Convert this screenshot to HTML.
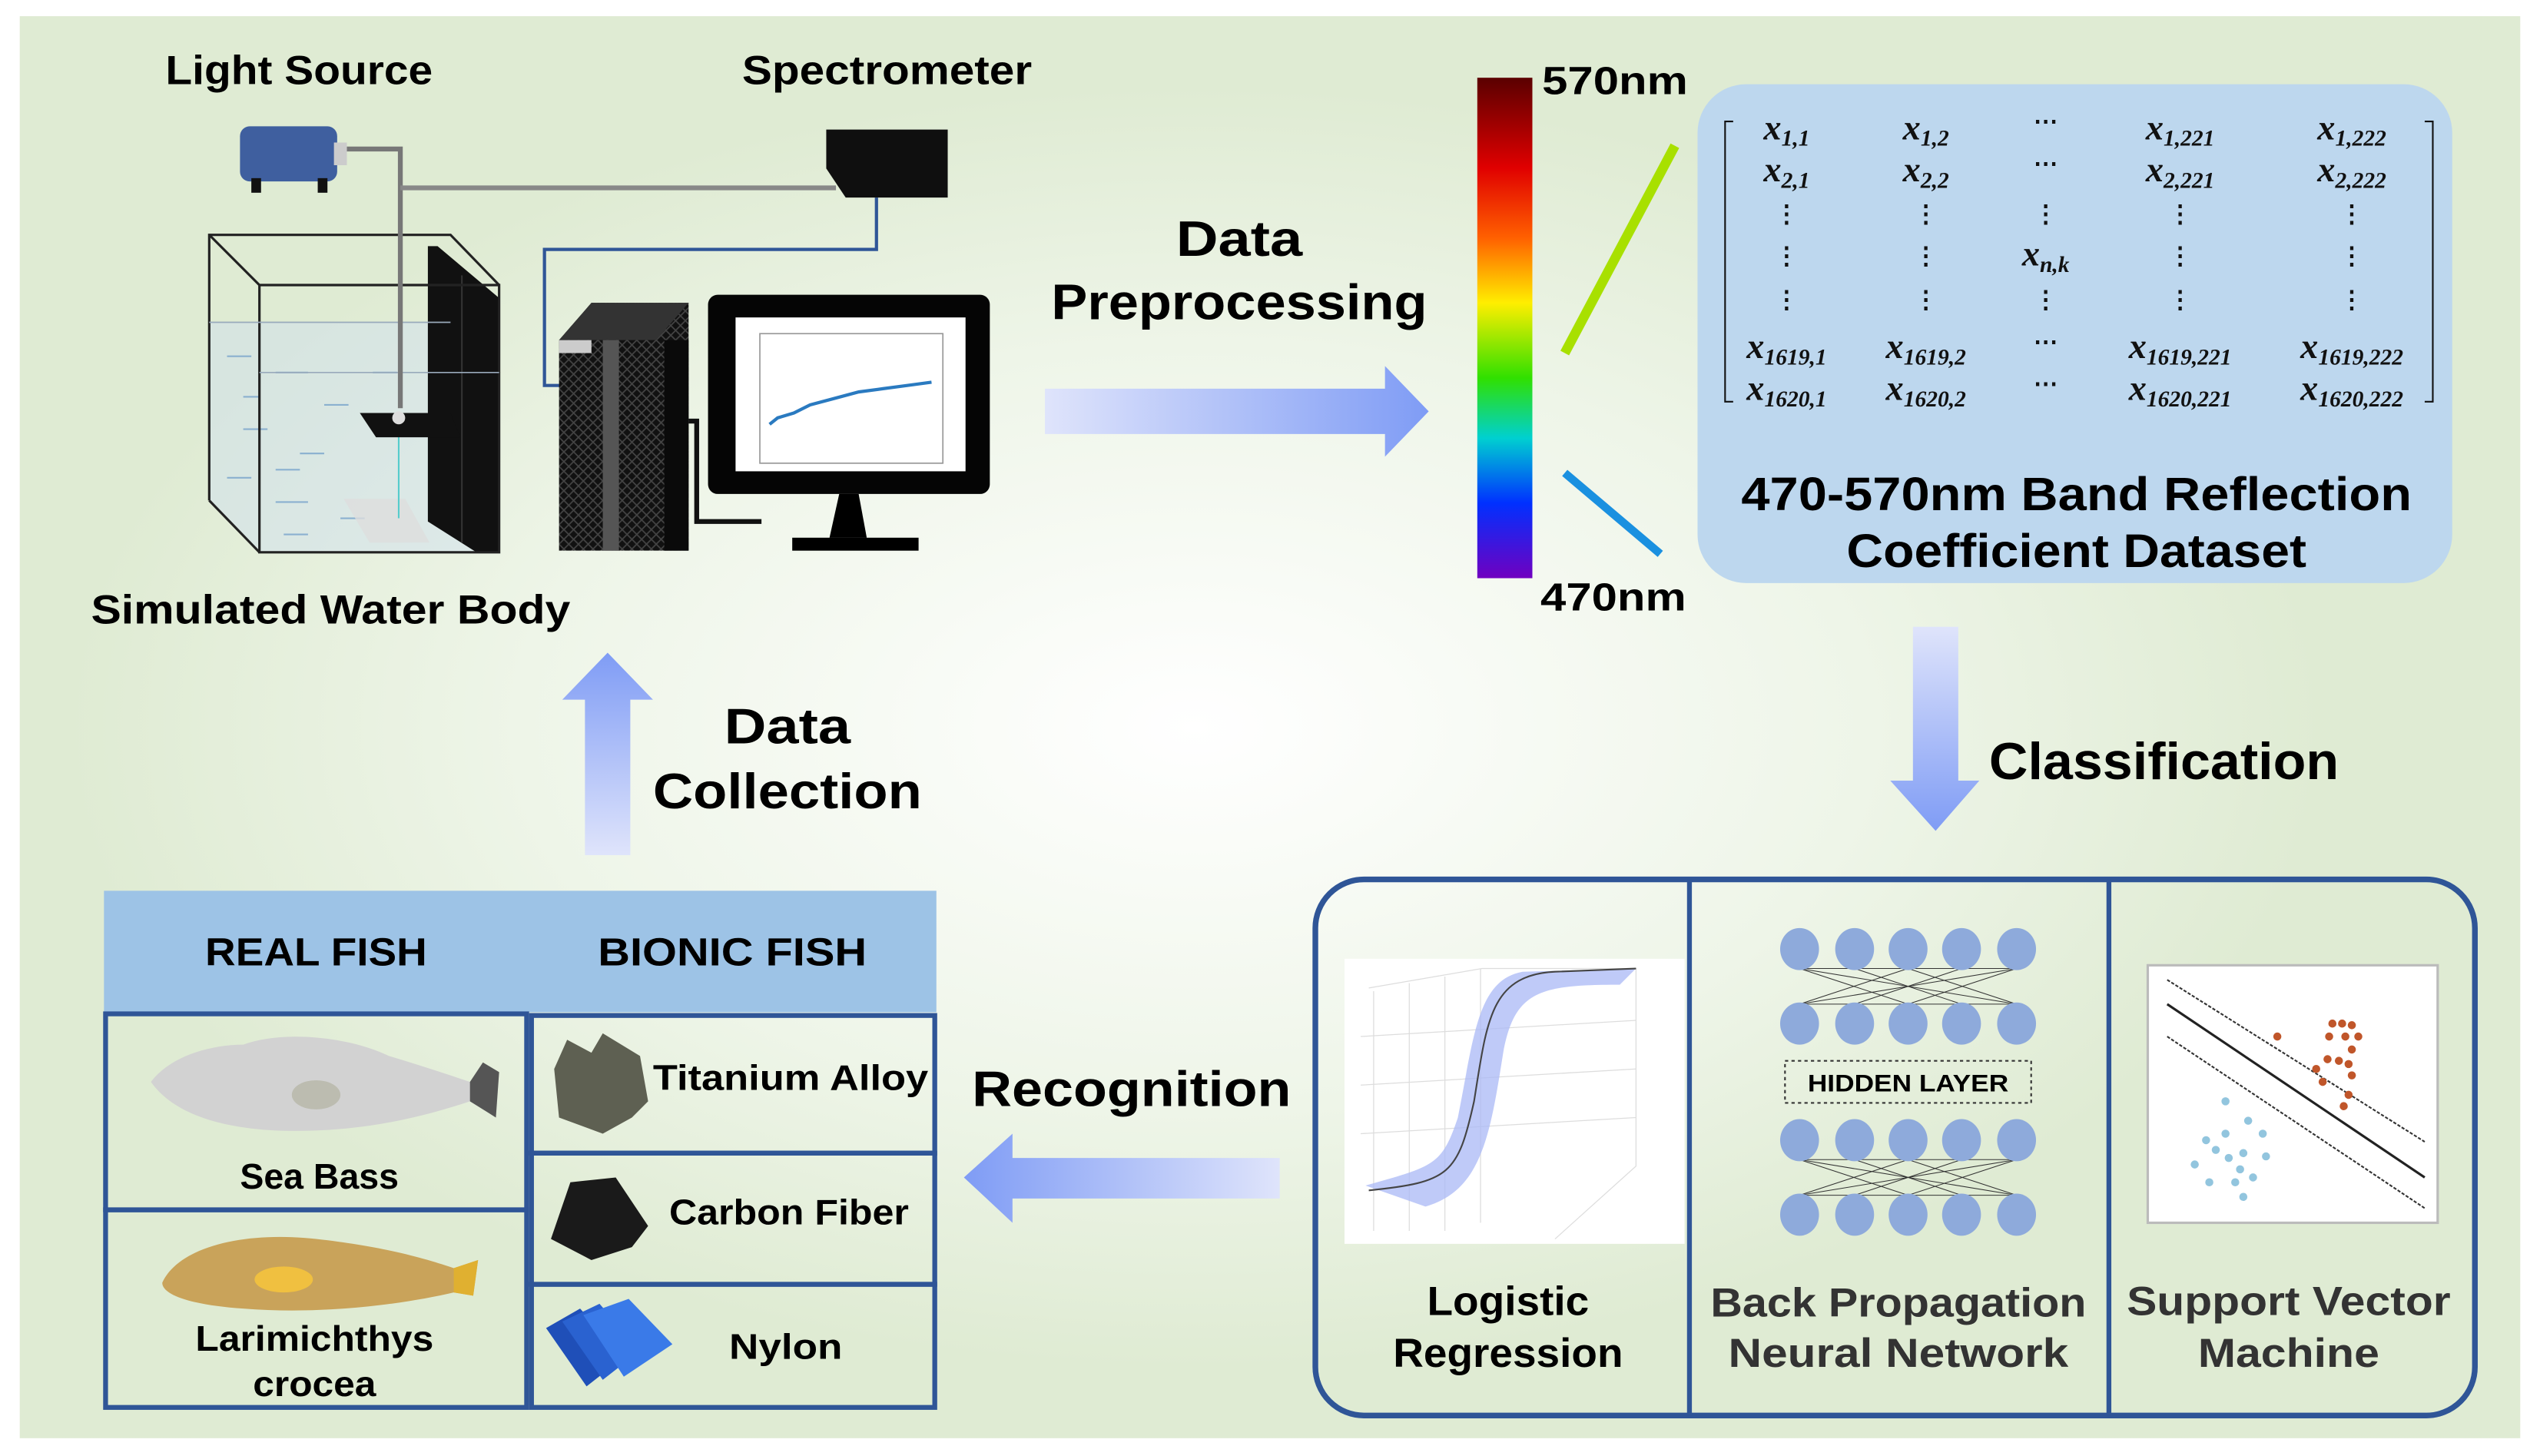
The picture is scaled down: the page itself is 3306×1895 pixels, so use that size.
<!DOCTYPE html>
<html><head><meta charset="utf-8"><style>html,body{margin:0;padding:0;background:#fff}svg{display:block}</style></head>
<body>
<svg width="3306" height="1895" viewBox="0 0 1568 899" xmlns="http://www.w3.org/2000/svg" font-family="Liberation Sans, sans-serif" font-weight="bold">
<defs>
<radialGradient id="bg" cx="0.47" cy="0.5" r="0.45">
<stop offset="0" stop-color="#ffffff"/><stop offset="0.6" stop-color="#eef5e8"/><stop offset="1" stop-color="#dfebd3"/></radialGradient>
<linearGradient id="ar" x1="0" y1="0" x2="1" y2="0"><stop offset="0" stop-color="#dfe4fb"/><stop offset="1" stop-color="#7f9cf5"/></linearGradient>
<linearGradient id="al" x1="1" y1="0" x2="0" y2="0"><stop offset="0" stop-color="#dfe4fb"/><stop offset="1" stop-color="#7f9cf5"/></linearGradient>
<linearGradient id="au" x1="0" y1="1" x2="0" y2="0"><stop offset="0" stop-color="#dfe4fb"/><stop offset="1" stop-color="#7f9cf5"/></linearGradient>
<linearGradient id="ad" x1="0" y1="0" x2="0" y2="1"><stop offset="0" stop-color="#dfe4fb"/><stop offset="1" stop-color="#7f9cf5"/></linearGradient>
<linearGradient id="sp" x1="0" y1="0" x2="0" y2="1">
<stop offset="0" stop-color="#5a0000"/><stop offset="0.18" stop-color="#e00000"/><stop offset="0.32" stop-color="#ff6000"/><stop offset="0.45" stop-color="#ffee00"/><stop offset="0.6" stop-color="#30e000"/><stop offset="0.72" stop-color="#00d0d0"/><stop offset="0.85" stop-color="#0030ff"/><stop offset="1" stop-color="#7000c0"/></linearGradient>
<pattern id="mesh" width="6" height="6" patternUnits="userSpaceOnUse"><rect width="6" height="6" fill="#111"/><path d="M0 3L3 0L6 3L3 6Z" fill="none" stroke="#444" stroke-width="0.8"/></pattern>
</defs>
<rect width="1568" height="899" fill="#fff"/>
<rect x="12" y="10" width="1544" height="878" fill="url(#bg)"/>

<!-- top labels -->
<text x="102" y="52" font-size="25" textLength="165" lengthAdjust="spacingAndGlyphs">Light Source</text>
<text x="458" y="52" font-size="25" textLength="179" lengthAdjust="spacingAndGlyphs">Spectrometer</text>
<text x="56" y="385" font-size="25" textLength="296" lengthAdjust="spacingAndGlyphs">Simulated Water Body</text>

<!-- tank -->
<polygon points="129,199 278,199 308,230 308,341 160,341 129,309" fill="#cfe0ee" opacity="0.5"/>
<g stroke="#6a9ac8" stroke-width="1" opacity="0.7">
<line x1="140" y1="220" x2="155" y2="220"/><line x1="170" y1="230" x2="190" y2="230"/><line x1="200" y1="250" x2="215" y2="250"/><line x1="150" y1="265" x2="165" y2="265"/><line x1="185" y1="280" x2="200" y2="280"/><line x1="140" y1="295" x2="155" y2="295"/><line x1="170" y1="310" x2="190" y2="310"/><line x1="210" y1="320" x2="225" y2="320"/><line x1="170" y1="290" x2="185" y2="290"/><line x1="150" y1="245" x2="160" y2="245"/><line x1="230" y1="230" x2="245" y2="230"/><line x1="175" y1="330" x2="190" y2="330"/></g>
<polygon points="212,308 250,308 265,335 228,335" fill="#ddd" opacity="0.8"/>
<polygon points="264,152 270,152 308,184 308,341 294,341 264,322" fill="#111"/>
<line x1="285" y1="170" x2="285" y2="335" stroke="#333" stroke-width="1"/>
<g fill="none" stroke="#222" stroke-width="1.5">
<polyline points="129,309 129,145 278,145 308,176"/>
<polyline points="129,145 160,176 308,176 308,341 160,341 160,176"/>
<line x1="129" y1="309" x2="160" y2="341"/>
</g>
<line x1="129" y1="199" x2="278" y2="199" stroke="#9ab" stroke-width="0.8"/>
<line x1="160" y1="230" x2="308" y2="230" stroke="#9ab" stroke-width="0.8"/>
<line x1="246" y1="268" x2="246" y2="320" stroke="#5cc" stroke-width="1"/>
<!-- cables -->
<polyline points="213,92 247,92 247,252" fill="none" stroke="#777" stroke-width="3"/>
<line x1="247" y1="116" x2="516" y2="116" stroke="#888" stroke-width="3"/>
<polyline points="541,122 541,154 336,154 336,238 395,238" fill="none" stroke="#2f5597" stroke-width="2"/>
<polygon points="222,255 278,255 284,270 232,270" fill="#111"/>
<circle cx="246" cy="258" r="4" fill="#ddd"/>
<!-- light source -->
<rect x="148" y="78" width="60" height="34" rx="6" fill="#3f5f9f"/>
<rect x="206" y="88" width="8" height="14" fill="#ccc"/>
<rect x="155" y="110" width="6" height="9" fill="#111"/><rect x="196" y="110" width="6" height="9" fill="#111"/>
<!-- spectrometer -->
<polygon points="510,80 585,80 585,122 522,122 510,104" fill="#0f0f0f"/>
<!-- tower -->
<polygon points="345,210 365,187 425,187 425,340 345,340" fill="url(#mesh)"/>
<polygon points="345,210 365,187 425,187 405,210" fill="#333"/>
<rect x="345" y="210" width="20" height="8" fill="#ccc"/>
<rect x="372" y="210" width="10" height="130" fill="#555"/>
<rect x="410" y="210" width="15" height="130" fill="#0a0a0a"/>
<polyline points="425,260 430,260 430,322 470,322" fill="none" stroke="#111" stroke-width="3"/>
<!-- monitor -->
<rect x="437" y="182" width="174" height="123" rx="6" fill="#050505"/>
<rect x="454" y="196" width="142" height="95" fill="#fff"/>
<rect x="469" y="206" width="113" height="80" fill="none" stroke="#999" stroke-width="0.8"/>
<path d="M475 262 L480 258 L490 255 L500 250 L515 246 L530 242 L545 240 L560 238 L575 236" fill="none" stroke="#2a7ac0" stroke-width="2"/>
<polygon points="518,305 530,305 535,332 512,332" fill="#000"/>
<rect x="489" y="332" width="78" height="8" fill="#000"/>

<!-- data preprocessing -->
<text x="765" y="158" font-size="31" text-anchor="middle" textLength="78" lengthAdjust="spacingAndGlyphs">Data</text>
<text x="765" y="197" font-size="31" text-anchor="middle" textLength="232" lengthAdjust="spacingAndGlyphs">Preprocessing</text>
<polygon points="645,240 855,240 855,226 882,254 855,282 855,268 645,268" fill="url(#ar)"/>

<!-- spectrum -->
<rect x="912" y="48" width="34" height="309" fill="url(#sp)"/>
<text x="952" y="58" font-size="24" textLength="90" lengthAdjust="spacingAndGlyphs">570nm</text>
<text x="951" y="377" font-size="24" textLength="90" lengthAdjust="spacingAndGlyphs">470nm</text>
<line x1="966" y1="218" x2="1034" y2="90" stroke="#a8e000" stroke-width="6"/>
<line x1="966" y1="292" x2="1025" y2="342" stroke="#1a90e0" stroke-width="5"/>

<!-- matrix box -->
<rect x="1048" y="52" width="466" height="308" rx="30" fill="#bdd7ee"/>
<g font-family="Liberation Serif, serif" font-style="italic" font-weight="bold" font-size="22" fill="#111" text-anchor="middle">
<text x="1103" y="86">x<tspan font-size="14" dy="4">1,1</tspan></text>
<text x="1189" y="86">x<tspan font-size="14" dy="4">1,2</tspan></text>
<text x="1346" y="86">x<tspan font-size="14" dy="4">1,221</tspan></text>
<text x="1452" y="86">x<tspan font-size="14" dy="4">1,222</tspan></text>
<text x="1103" y="112">x<tspan font-size="14" dy="4">2,1</tspan></text>
<text x="1189" y="112">x<tspan font-size="14" dy="4">2,2</tspan></text>
<text x="1346" y="112">x<tspan font-size="14" dy="4">2,221</tspan></text>
<text x="1452" y="112">x<tspan font-size="14" dy="4">2,222</tspan></text>
<text x="1263" y="164">x<tspan font-size="14" dy="4">n,k</tspan></text>
<text x="1103" y="221">x<tspan font-size="14" dy="4">1619,1</tspan></text>
<text x="1189" y="221">x<tspan font-size="14" dy="4">1619,2</tspan></text>
<text x="1346" y="221">x<tspan font-size="14" dy="4">1619,221</tspan></text>
<text x="1452" y="221">x<tspan font-size="14" dy="4">1619,222</tspan></text>
<text x="1103" y="247">x<tspan font-size="14" dy="4">1620,1</tspan></text>
<text x="1189" y="247">x<tspan font-size="14" dy="4">1620,2</tspan></text>
<text x="1346" y="247">x<tspan font-size="14" dy="4">1620,221</tspan></text>
<text x="1452" y="247">x<tspan font-size="14" dy="4">1620,222</tspan></text>
</g>
<g font-family="Liberation Serif, serif" font-weight="bold" font-size="15" fill="#111" text-anchor="middle">
<text x="1263" y="80">⋯</text><text x="1263" y="106">⋯</text><text x="1263" y="216">⋯</text><text x="1263" y="242">⋯</text>
<text x="1103" y="137">⋮</text><text x="1189" y="137">⋮</text><text x="1263" y="137">⋮</text><text x="1346" y="137">⋮</text><text x="1452" y="137">⋮</text>
<text x="1103" y="163">⋮</text><text x="1189" y="163">⋮</text><text x="1346" y="163">⋮</text><text x="1452" y="163">⋮</text>
<text x="1103" y="190">⋮</text><text x="1189" y="190">⋮</text><text x="1263" y="190">⋮</text><text x="1346" y="190">⋮</text><text x="1452" y="190">⋮</text>
</g>
<polyline points="1070,75 1065,75 1065,248 1070,248" fill="none" stroke="#111" stroke-width="1"/>
<polyline points="1497,75 1502,75 1502,248 1497,248" fill="none" stroke="#111" stroke-width="1"/>
<text x="1282" y="315" font-size="29" text-anchor="middle" textLength="414" lengthAdjust="spacingAndGlyphs">470-570nm Band Reflection</text>
<text x="1282" y="350" font-size="29" text-anchor="middle" textLength="284" lengthAdjust="spacingAndGlyphs">Coefficient Dataset</text>

<!-- classification arrow -->
<polygon points="1181,387 1209,387 1209,482 1222,482 1195,513 1167,482 1181,482" fill="url(#ad)"/>
<text x="1228" y="481" font-size="32" textLength="216" lengthAdjust="spacingAndGlyphs">Classification</text>

<!-- data collection -->
<polygon points="361,528 389,528 389,432 403,432 375,403 347,432 361,432" fill="url(#au)"/>
<text x="486" y="459" font-size="31" text-anchor="middle" textLength="78" lengthAdjust="spacingAndGlyphs">Data</text>
<text x="486" y="499" font-size="31" text-anchor="middle" textLength="166" lengthAdjust="spacingAndGlyphs">Collection</text>

<!-- recognition -->
<polygon points="790,715 625,715 625,700 595,727 625,755 625,740 790,740" fill="url(#al)"/>
<text x="600" y="683" font-size="31" textLength="197" lengthAdjust="spacingAndGlyphs">Recognition</text>

<!-- table -->
<rect x="64" y="550" width="514" height="75" fill="#9dc3e6"/>
<text x="195" y="596" font-size="24" text-anchor="middle" textLength="137" lengthAdjust="spacingAndGlyphs">REAL FISH</text>
<text x="452" y="596" font-size="24" text-anchor="middle" textLength="166" lengthAdjust="spacingAndGlyphs">BIONIC FISH</text>
<g fill="none" stroke="#2f5597" stroke-width="3">
<rect x="65" y="626" width="260" height="121"/><rect x="65" y="747" width="260" height="122"/>
<rect x="328" y="627" width="249" height="85"/><rect x="328" y="712" width="249" height="81"/><rect x="328" y="793" width="249" height="76"/>
</g>
<!-- sea bass -->
<path d="M93 668 C105 652 130 645 150 645 C175 636 215 640 240 652 C260 658 275 663 290 668 L298 656 L308 662 L306 690 L290 680 C260 690 220 700 170 698 C130 696 105 685 93 668Z" fill="#d2d2d2"/>
<path d="M290 668 L298 656 L308 662 L306 690 L290 680Z" fill="#555"/>
<ellipse cx="195" cy="676" rx="15" ry="9" fill="#bcbcb0"/>
<text x="197" y="734" font-size="22" text-anchor="middle" textLength="98" lengthAdjust="spacingAndGlyphs">Sea Bass</text>
<!-- yellow croaker -->
<path d="M100 792 C110 770 150 760 195 765 C240 770 265 778 280 783 L295 778 L292 800 L280 798 C250 805 200 812 150 808 C120 806 100 800 100 792Z" fill="#c9a35a"/>
<path d="M280 783 L295 778 L292 800 L280 798Z" fill="#e0b030"/>
<ellipse cx="175" cy="790" rx="18" ry="8" fill="#f0c040"/>
<text x="194" y="834" font-size="22" text-anchor="middle" textLength="147" lengthAdjust="spacingAndGlyphs">Larimichthys</text>
<text x="194" y="862" font-size="22" text-anchor="middle" textLength="76" lengthAdjust="spacingAndGlyphs">crocea</text>
<!-- materials -->
<polygon points="350,642 365,650 372,638 395,652 400,680 390,690 372,700 345,690 342,660" fill="#5e6052"/>
<text x="403" y="673" font-size="22" textLength="170" lengthAdjust="spacingAndGlyphs">Titanium Alloy</text>
<polygon points="352,730 380,727 400,757 390,770 365,778 340,765" fill="#1a1a1a"/>
<text x="413" y="756" font-size="22" textLength="148" lengthAdjust="spacingAndGlyphs">Carbon Fiber</text>
<polygon points="337,820 358,808 385,838 362,856" fill="#1f4fb8"/>
<polygon points="347,816 370,805 395,834 372,852" fill="#2a62d0"/>
<polygon points="360,812 388,802 415,830 385,850" fill="#3a7ae8"/>
<text x="485" y="839" font-size="22" text-anchor="middle" textLength="70" lengthAdjust="spacingAndGlyphs">Nylon</text>

<!-- classifier box -->
<rect x="812" y="543" width="716" height="331" rx="30" fill="none" stroke="#2f5597" stroke-width="3.5"/>
<line x1="1043" y1="543" x2="1043" y2="874" stroke="#2f5597" stroke-width="3"/>
<line x1="1302" y1="543" x2="1302" y2="874" stroke="#2f5597" stroke-width="3"/>
<!-- logistic -->
<rect x="830" y="592" width="210" height="176" fill="#fff"/>
<g stroke="#ddd" stroke-width="0.6" fill="none">
<line x1="848" y1="612" x2="848" y2="760"/><line x1="870" y1="607" x2="870" y2="760"/><line x1="892" y1="603" x2="892" y2="760"/><line x1="914" y1="598" x2="914" y2="755"/>
<line x1="840" y1="640" x2="1010" y2="630"/><line x1="840" y1="670" x2="1010" y2="660"/><line x1="840" y1="700" x2="1010" y2="690"/>
<polyline points="845,610 915,598 1010,598 1010,720 960,765"/>
</g>
<path d="M843 732 C885 720 890 720 900 690 C910 640 912 605 940 600 L1010 598 L1000 608 C950 608 935 612 928 650 C920 700 915 735 880 745 Z" fill="#a9b8f5" opacity="0.75"/>
<path d="M845 735 C895 730 900 725 910 680 C918 630 920 602 960 600 L1010 598" fill="none" stroke="#444" stroke-width="1"/>
<text x="931" y="812" font-size="25" text-anchor="middle" textLength="100" lengthAdjust="spacingAndGlyphs">Logistic</text>
<text x="931" y="844" font-size="25" text-anchor="middle" textLength="142" lengthAdjust="spacingAndGlyphs">Regression</text>
<!-- NN -->
<g stroke="#333" stroke-width="0.5">
<line x1="1111" y1="598" x2="1245" y2="620"/><line x1="1245" y1="598" x2="1111" y2="620"/><line x1="1145" y1="598" x2="1211" y2="620"/><line x1="1211" y1="598" x2="1145" y2="620"/><line x1="1111" y1="598" x2="1178" y2="620"/><line x1="1178" y1="598" x2="1245" y2="620"/><line x1="1178" y1="598" x2="1111" y2="620"/><line x1="1245" y1="598" x2="1178" y2="620"/>
<line x1="1111" y1="598" x2="1245" y2="598"/><line x1="1111" y1="620" x2="1245" y2="620"/>
<line x1="1111" y1="716" x2="1245" y2="738"/><line x1="1245" y1="716" x2="1111" y2="738"/><line x1="1145" y1="716" x2="1211" y2="738"/><line x1="1211" y1="716" x2="1145" y2="738"/><line x1="1111" y1="716" x2="1178" y2="738"/><line x1="1178" y1="716" x2="1245" y2="738"/><line x1="1178" y1="716" x2="1111" y2="738"/><line x1="1245" y1="716" x2="1178" y2="738"/>
<line x1="1111" y1="716" x2="1245" y2="716"/><line x1="1111" y1="738" x2="1245" y2="738"/>
</g>
<g fill="#8eaadb">
<ellipse cx="1111" cy="586" rx="12" ry="13"/><ellipse cx="1145" cy="586" rx="12" ry="13"/><ellipse cx="1178" cy="586" rx="12" ry="13"/><ellipse cx="1211" cy="586" rx="12" ry="13"/><ellipse cx="1245" cy="586" rx="12" ry="13"/>
<ellipse cx="1111" cy="632" rx="12" ry="13"/><ellipse cx="1145" cy="632" rx="12" ry="13"/><ellipse cx="1178" cy="632" rx="12" ry="13"/><ellipse cx="1211" cy="632" rx="12" ry="13"/><ellipse cx="1245" cy="632" rx="12" ry="13"/>
<ellipse cx="1111" cy="704" rx="12" ry="13"/><ellipse cx="1145" cy="704" rx="12" ry="13"/><ellipse cx="1178" cy="704" rx="12" ry="13"/><ellipse cx="1211" cy="704" rx="12" ry="13"/><ellipse cx="1245" cy="704" rx="12" ry="13"/>
<ellipse cx="1111" cy="750" rx="12" ry="13"/><ellipse cx="1145" cy="750" rx="12" ry="13"/><ellipse cx="1178" cy="750" rx="12" ry="13"/><ellipse cx="1211" cy="750" rx="12" ry="13"/><ellipse cx="1245" cy="750" rx="12" ry="13"/>
</g>
<rect x="1102" y="655" width="152" height="26" fill="none" stroke="#333" stroke-width="1" stroke-dasharray="2,2"/>
<text x="1178" y="674" font-size="15" text-anchor="middle" textLength="124" lengthAdjust="spacingAndGlyphs">HIDDEN LAYER</text>
<text x="1172" y="813" font-size="25" text-anchor="middle" fill="#333" textLength="232" lengthAdjust="spacingAndGlyphs">Back Propagation</text>
<text x="1172" y="844" font-size="25" text-anchor="middle" fill="#333" textLength="210" lengthAdjust="spacingAndGlyphs">Neural Network</text>
<!-- SVM -->
<rect x="1326" y="596" width="179" height="159" fill="#fff" stroke="#bbb" stroke-width="1.5"/>
<line x1="1338" y1="605" x2="1497" y2="705" stroke="#333" stroke-width="1" stroke-dasharray="2,1"/>
<line x1="1338" y1="620" x2="1497" y2="727" stroke="#222" stroke-width="1.5"/>
<line x1="1338" y1="640" x2="1497" y2="746" stroke="#333" stroke-width="1" stroke-dasharray="2,1"/>
<g fill="#c0562a">
<circle cx="1406" cy="640" r="2.5"/><circle cx="1440" cy="632" r="2.5"/><circle cx="1446" cy="632" r="2.5"/><circle cx="1452" cy="633" r="2.5"/><circle cx="1438" cy="640" r="2.5"/><circle cx="1448" cy="640" r="2.5"/><circle cx="1456" cy="640" r="2.5"/><circle cx="1452" cy="648" r="2.5"/><circle cx="1437" cy="654" r="2.5"/><circle cx="1444" cy="655" r="2.5"/><circle cx="1450" cy="657" r="2.5"/><circle cx="1430" cy="660" r="2.5"/><circle cx="1452" cy="664" r="2.5"/><circle cx="1434" cy="668" r="2.5"/><circle cx="1450" cy="676" r="2.5"/><circle cx="1447" cy="683" r="2.5"/></g>
<g fill="#92c5de">
<circle cx="1374" cy="680" r="2.5"/><circle cx="1388" cy="692" r="2.5"/><circle cx="1397" cy="700" r="2.5"/><circle cx="1362" cy="704" r="2.5"/><circle cx="1368" cy="710" r="2.5"/><circle cx="1374" cy="700" r="2.5"/><circle cx="1376" cy="715" r="2.5"/><circle cx="1385" cy="712" r="2.5"/><circle cx="1399" cy="714" r="2.5"/><circle cx="1355" cy="719" r="2.5"/><circle cx="1383" cy="722" r="2.5"/><circle cx="1364" cy="730" r="2.5"/><circle cx="1380" cy="730" r="2.5"/><circle cx="1391" cy="727" r="2.5"/><circle cx="1385" cy="739" r="2.5"/></g>
<text x="1413" y="812" font-size="25" text-anchor="middle" fill="#333" textLength="200" lengthAdjust="spacingAndGlyphs">Support Vector</text>
<text x="1413" y="844" font-size="25" text-anchor="middle" fill="#333" textLength="112" lengthAdjust="spacingAndGlyphs">Machine</text>
</svg>
</body></html>
